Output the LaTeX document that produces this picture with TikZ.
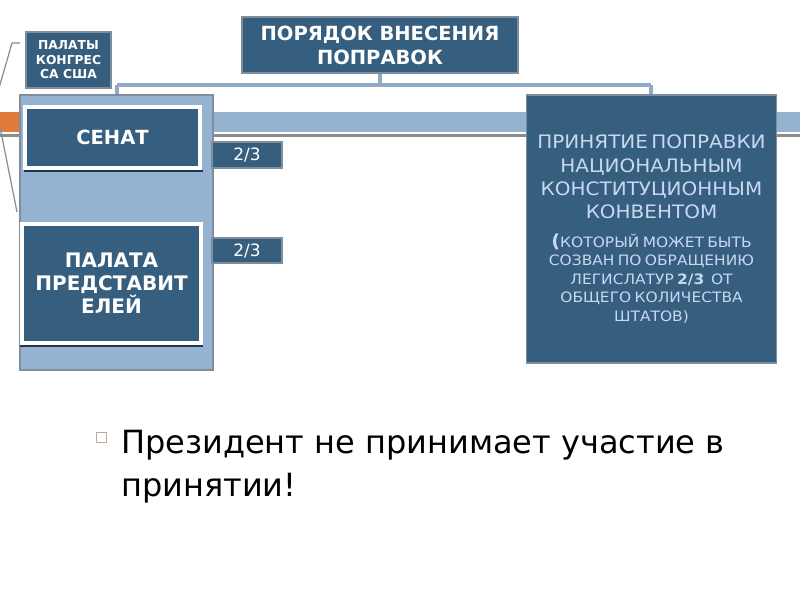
\documentclass[tikz,border=0pt]{standalone}
\usepackage{fontspec}
\setmainfont{DejaVu Sans}
\newfontfamily\widefont[FakeStretch=1.08]{DejaVu Sans}
\definecolor{dkblue}{HTML}{365E7E}
\definecolor{bordergray}{HTML}{7F8E9C}
\definecolor{ltblue}{HTML}{95B3D0}
\definecolor{connblue}{HTML}{8FAAC2}
\definecolor{orangeband}{HTML}{E07B39}
\definecolor{graystripe}{HTML}{8C8C8C}
\definecolor{txtblue}{HTML}{C6D9F1}
\definecolor{bulletc}{HTML}{C0A890}
\tikzset{
  dbox/.style={draw=bordergray, line width=1.5pt, fill=dkblue, text=white, inner sep=0pt, align=center},
  wbox/.style={draw=white, line width=3.5pt, fill=dkblue, text=white, inner sep=0pt, align=center},
  conn/.style={draw=connblue, line width=3.5pt},
}
\begin{document}
\begin{tikzpicture}[x=1pt,y=-1pt]
\useasboundingbox (0,0) rectangle (800,600);
% background bands
\fill[orangeband] (0,112) rectangle (20,132);
\fill[ltblue] (213,112) rectangle (800,132);
\draw[graystripe, line width=3pt] (0,135.5) -- (20,135.5);
\draw[graystripe, line width=3pt] (213,135.5) -- (800,135.5);
% bracket line
\draw[bordergray, line width=1.2pt] (20,43) -- (12,43) -- (-5,102) -- (17,212);
% nodes
\node[dbox, minimum width=276, minimum height=56, font=\bfseries\fontsize{19.5}{24}\selectfont] (title) at (380,45) {ПОРЯДОК ВНЕСЕНИЯ\\ПОПРАВОК};
\node[dbox, minimum width=85, minimum height=56, font=\bfseries\fontsize{12.3}{14.5}\selectfont] (kongr) at (68.5,60) {ПАЛАТЫ\\КОНГРЕС\\СА США};
\node[draw=bordergray, line width=1.5pt, fill=ltblue, minimum width=193, minimum height=275, inner sep=0pt] (cont) at (116.5,232.5) {};
\draw[dkblue!60!black, line width=1.5pt] (24,171) -- (203,171);
\node[wbox, minimum width=175, minimum height=61, font=\bfseries\fontsize{19.5}{23}\selectfont] (senat) at (112.5,137.5) {СЕНАТ};
\draw[dkblue!60!black, line width=1.5pt] (20,346) -- (203,346);
\node[wbox, minimum width=179, minimum height=119, font=\bfseries\fontsize{20}{23}\selectfont] (palata) at (111.5,283.5) {ПАЛАТА\\ПРЕДСТАВИТ\\ЕЛЕЙ};
\node[dbox, minimum width=70, minimum height=26, font=\fontsize{17}{20}\selectfont] (s23) at (247,155) {2/3};
\node[dbox, minimum width=70, minimum height=25, font=\fontsize{17}{20}\selectfont] (p23) at (247,250.5) {2/3};
\node[dbox, minimum width=250, minimum height=268, text width=246, text=txtblue, font=\widefont] (conv) at (651.5,229) {%
{\fontsize{18.5}{23.3}\selectfont ПРИНЯТИЕ ПОПРАВКИ\\НАЦИОНАЛЬНЫМ\\КОНСТИТУЦИОННЫМ\\КОНВЕНТОМ\par}%
\vspace{10pt}%
{\fontsize{14.3}{18.5}\selectfont {\bfseries\fontsize{18}{18.5}\selectfont (}КОТОРЫЙ МОЖЕТ БЫТЬ\\СОЗВАН ПО ОБРАЩЕНИЮ\\ЛЕГИСЛАТУР {\bfseries 2/3}\ \ ОТ\\ОБЩЕГО КОЛИЧЕСТВА\\ШТАТОВ)\par}};
% connectors
\coordinate (hl) at (117,85);
\coordinate (hr) at (651,85);
\draw[conn] (title.south) -- (title.south |- hl);
\draw[conn] (hl) -- (hr);
\draw[conn] (hl) -- (hl |- cont.north);
\draw[conn] (hr) -- (hr |- conv.north);
% bullet text
\node[draw=bulletc, line width=0.8pt, minimum width=10, minimum height=10, inner sep=0pt] (bul) at (101.5,437.5) {};
\node[anchor=north west, align=left, inner sep=0pt, font=\fontsize{32}{43}\selectfont] (pres) at (121,430) {Президент не принимает участие в\\принятии!};
\end{tikzpicture}
\end{document}
